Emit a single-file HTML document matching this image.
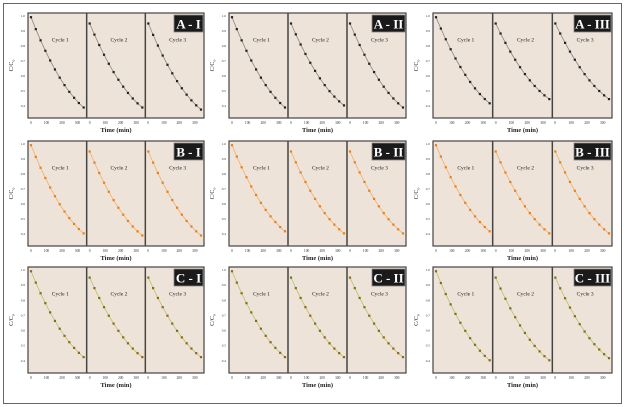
<!DOCTYPE html>
<html><head><meta charset="utf-8">
<style>
html,body{margin:0;padding:0;background:#fff;}
svg{display:block;font-family:"Liberation Serif",serif;}
</style></head>
<body>
<svg id="s" width="628" height="407" xmlns="http://www.w3.org/2000/svg">
<rect x="3.5" y="3.5" width="618" height="400" fill="#fff" stroke="#666" stroke-width="1"/>
</svg>
<script>
const s=document.getElementById('s');
let h='';
const cols={A:['#222','#888'],B:['#e8801a','#f0b070'],C:['#8a6a10','#b8c070']};
const xs=[[28,204],[229,406],[433,612]];
const ys=[[13,118],[141,246],[267,373]];
const rows=['A','B','C'],rom=['I','II','III'];
const ends=[[[.9,.9,.92],[.9,.88,.9],[.86,.82,.82]],
[[.88,.9,.9],[.86,.88,.88],[.86,.88,.88]],
[[.85,.85,.85],[.85,.85,.85],[.88,.88,.86]]];
const ticks=['1.0','0.9','0.8','0.7','0.6','0.5','0.4','0.3','0.2'];
for(let r=0;r<3;r++)for(let c=0;c<3;c++){
 const [x0,x1]=xs[c],[y0,y1]=ys[r];const w=x1-x0,hh=y1-y0;
 const [dc,lc]=cols[rows[r]];
 h+=`<rect x="${x0}" y="${y0}" width="${w}" height="${hh}" fill="#eee3d8" stroke="#444" stroke-width="1.2"/>`;
 const cw=w/3;
 for(let k=1;k<3;k++)h+=`<line x1="${x0+cw*k}" y1="${y0}" x2="${x0+cw*k}" y2="${y1}" stroke="#444" stroke-width="1.5"/>`;
 for(let k=0;k<3;k++){
  const cx=x0+cw*k;
  h+=`<text x="${cx+cw*0.55}" y="${y0+hh*0.27}" font-size="5.5" text-anchor="middle" fill="#222">Cycle ${k+1}</text>`;
  let pts=[];const e=ends[r][c][k];const st=k==0?0.04:0.1;
  for(let i=0;i<12;i++){const t=i/11;const f=st+(e-st)*(0.5*t+0.5*(1-(1-t)*(1-t)));pts.push([cx+3+t*(cw-6),y0+f*hh]);}
  h+=`<polyline points="${pts.map(p=>p.join(',')).join(' ')}" fill="none" stroke="${lc}" stroke-width="0.8"/>`;
  pts.forEach(p=>h+=`<rect x="${p[0]-1.1}" y="${p[1]-1.1}" width="2.2" height="2.2" fill="${dc}"/>`);
  ['0','100','200','300'].forEach((l,j)=>h+=`<text x="${cx+3+j*(cw-6)/3.4}" y="${y1+6}" font-size="3.6" text-anchor="middle" fill="#333">${l}</text>`);
 }
 for(let t=0;t<7;t++)h+=`<text x="${x0-3}" y="${y0+4+t*hh/7}" font-size="3.4" text-anchor="end" fill="#333">${ticks[t]}</text>`;
 h+=`<text x="${x0-15}" y="${y0+hh/2}" font-size="6" fill="#222" transform="rotate(-90 ${x0-15} ${y0+hh/2})" text-anchor="middle">C/C<tspan font-size="4" dy="1.5">o</tspan></text>`;
 h+=`<text x="${x0+w/2}" y="${y1+14}" font-size="6.5" font-weight="bold" text-anchor="middle" fill="#222">Time (min)</text>`;
 const lab=`${rows[r]} - ${rom[c]}`;const lw=c==0?29:c==1?33:37;
 h+=`<rect x="${x1-lw-1}" y="${y0+2}" width="${lw}" height="17" fill="#1a1a1a" stroke="#888" stroke-width="0.8"/>`;
 h+=`<text x="${x1-1-lw/2}" y="${y0+15.5}" font-size="13" font-weight="bold" text-anchor="middle" fill="#fff">${lab}</text>`;
}
s.insertAdjacentHTML('beforeend',h);
</script>
</body></html>
